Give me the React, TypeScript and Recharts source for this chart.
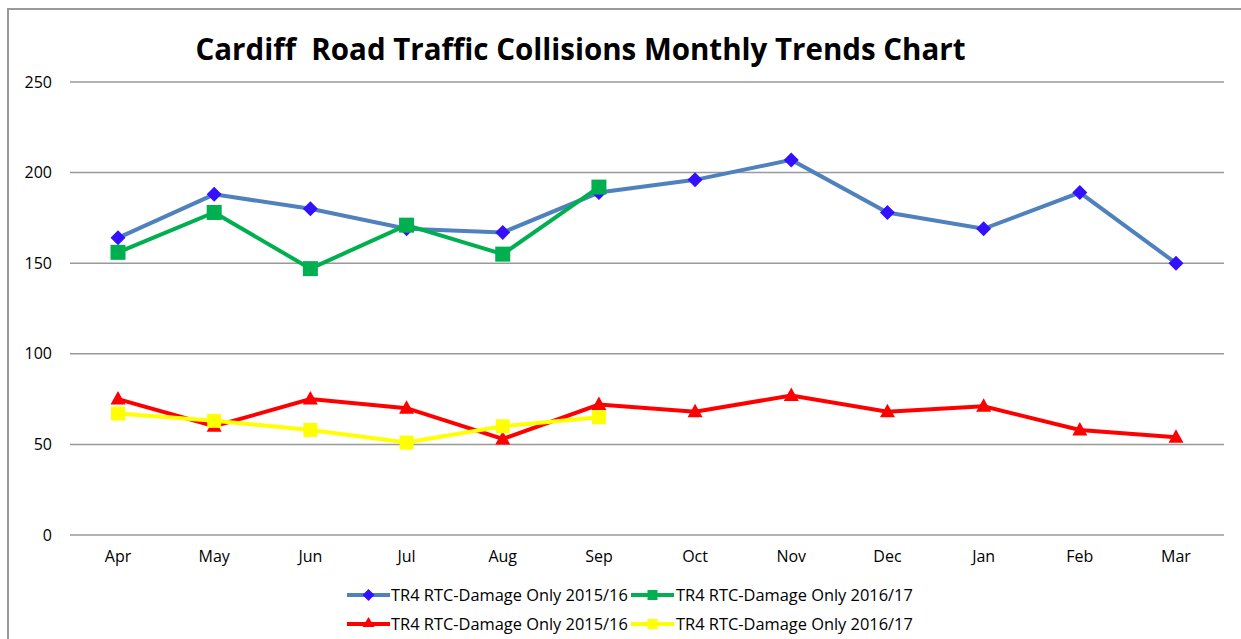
import React from 'react';
import { LineChart, Line, XAxis, YAxis, CartesianGrid } from 'recharts';

const months = ['Apr', 'May', 'Jun', 'Jul', 'Aug', 'Sep', 'Oct', 'Nov', 'Dec', 'Jan', 'Feb', 'Mar'];
const blue1516: (number | null)[] = [164, 188, 180, 169, 167, 189, 196, 207, 178, 169, 189, 150];
const green1617: (number | null)[] = [156, 178, 147, 171, 155, 192, null, null, null, null, null, null];
const red1516: (number | null)[] = [75, 60, 75, 70, 53, 72, 68, 77, 68, 71, 58, 54];
const yellow1617: (number | null)[] = [67, 63, 58, 51, 60, 65, null, null, null, null, null, null];
const yTicks = [0, 50, 100, 150, 200, 250];
const title = 'Cardiff  Road Traffic Collisions Monthly Trends Chart';
const seriesNames = [
  'TR4 RTC-Damage Only 2015/16',
  'TR4 RTC-Damage Only 2016/17',
  'TR4 RTC-Damage Only 2015/16',
  'TR4 RTC-Damage Only 2016/17',
];

const data = months.map((m, i) => ({
  month: m,
  a: blue1516[i],
  b: green1617[i],
  c: red1516[i],
  d: yellow1617[i],
}));

const FONT = '"Open Sans", "Liberation Sans", sans-serif';

const Diamond = (props: any) => {
  const { cx, cy } = props;
  if (cx == null || cy == null || props.value == null) return null;
  const r = 7.5;
  return <path d={`M${cx},${cy - r}L${cx + r},${cy}L${cx},${cy + r}L${cx - r},${cy}Z`} fill="#3311FF" />;
};
const Square = (color: string, s: number) => (props: any) => {
  const { cx, cy } = props;
  if (cx == null || cy == null || props.value == null) return null;
  return <rect x={cx - s / 2} y={cy - s / 2} width={s} height={s} fill={color} />;
};
const Triangle = (props: any) => {
  const { cx, cy } = props;
  if (cx == null || cy == null || props.value == null) return null;
  return <path d={`M${cx},${cy - 8}L${cx + 7.5},${cy + 5.5}L${cx - 7.5},${cy + 5.5}Z`} fill="#FF0000" />;
};

const GreenSq = Square('#00B050', 15);
const YellowSq = Square('#FFFF00', 14);

const LegendIcon = ({ kind }: { kind: number }) => {
  const colors = ['#4F81BD', '#00B050', '#FF0000', '#FFFF00'];
  const w = 43;
  const c = w / 2;
  let marker: React.ReactNode = null;
  if (kind === 0) marker = <path d={`M${c},3L${c + 6},9L${c},15L${c - 6},9Z`} fill="#3311FF" />;
  if (kind === 1) marker = <rect x={c - 5} y={4} width={10} height={10} fill="#00B050" />;
  if (kind === 2) marker = <path d={`M${c},2L${c + 6},12L${c - 6},12Z`} fill="#FF0000" />;
  if (kind === 3) marker = <rect x={c - 5} y={4} width={10} height={10} fill="#FFFF00" />;
  return (
    <svg width={w} height={18} style={{ display: 'block' }}>
      <line x1={0} y1={9} x2={w} y2={9} stroke={colors[kind]} strokeWidth={4} />
      {marker}
    </svg>
  );
};

const LegendBox = () => {
  const row = (a: number, b: number, top: number) => (
    <div style={{ position: 'absolute', left: 347, top, display: 'flex', alignItems: 'center', whiteSpace: 'nowrap' }}>
      <LegendIcon kind={a} />
      <span style={{ width: 240, marginLeft: 1, fontSize: 16.4, color: '#000' }}>{seriesNames[a]}</span>
      <LegendIcon kind={b} />
      <span style={{ marginLeft: 2, fontSize: 16.4, color: '#000' }}>{seriesNames[b]}</span>
    </div>
  );
  return (
    <div style={{ position: 'absolute', left: 0, top: 583, width: 1241, height: 56, fontFamily: FONT }}>
      {row(0, 1, 0)}
      {row(2, 3, 29)}
    </div>
  );
};

export default function App() {
  return (
    <div style={{ position: 'absolute', left: 0, top: 0, width: 1241, height: 639, overflow: 'hidden', background: '#fff', fontFamily: FONT }}>
      <div style={{ position: 'absolute', left: 7, top: 8, width: 1400, height: 800, border: '2px solid #9a9a9a', boxSizing: 'border-box' }} />
      <div style={{ position: 'absolute', left: 0, top: 28, width: 1161, textAlign: 'center', fontSize: 29.5, fontWeight: 'bold', color: '#000', whiteSpace: 'pre' }}>
        {title}
      </div>
      <div style={{ position: 'absolute', left: 0, top: 0 }}>
        <LineChart width={1241} height={639} data={data} margin={{ top: 82, right: 17, bottom: 74, left: 10 }}>
          <CartesianGrid horizontal vertical={false} stroke="#999" strokeWidth={1.5} />
          <XAxis
            dataKey="month"
            padding={{ left: 48, right: 48 }}
            axisLine={false}
            tickLine={false}
            tickSize={0}
            tickMargin={16}
            tick={{ fontSize: 16, fill: '#000', fontFamily: FONT }}
            interval={0}
          />
          <YAxis
            domain={[0, 250]}
            ticks={yTicks}
            width={60}
            axisLine={false}
            tickLine={false}
            tickSize={0}
            tickMargin={18}
            tick={{ fontSize: 16, fill: '#000', fontFamily: FONT }}
          />
          <Line dataKey="a" stroke="#4F81BD" strokeWidth={4} dot={<Diamond />} activeDot={false} isAnimationActive={false} />
          <Line dataKey="b" stroke="#00B050" strokeWidth={4} dot={<GreenSq />} activeDot={false} isAnimationActive={false} />
          <Line dataKey="c" stroke="#FF0000" strokeWidth={4} dot={<Triangle />} activeDot={false} isAnimationActive={false} />
          <Line dataKey="d" stroke="#FFFF00" strokeWidth={4} dot={<YellowSq />} activeDot={false} isAnimationActive={false} />
        </LineChart>
      </div>
      <LegendBox />
    </div>
  );
}
